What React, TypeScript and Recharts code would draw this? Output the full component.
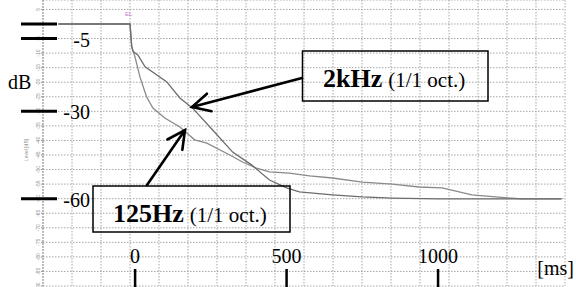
import { CartesianGrid, Line, LineChart, XAxis, YAxis } from "recharts";

// decay curves: time [ms] vs level [dB]
const time2k = [-247, 0, 6, 11, 27, 52, 126, 172, 216, 285, 354, 419, 481, 540, 584, 698, 801, 904, 1065, 1488];
const level2k = [0, 0, -7.8, -9.5, -10.6, -14.7, -19.8, -25.4, -28.9, -36.4, -44.0, -48.4, -53.6, -56.3, -57.7, -58.7, -59.4, -59.8, -60.1, -60.1];

const time125 = [-247, 0, 6, 11, 17, 34, 57, 79, 120, 172, 223, 265, 344, 388, 436, 481, 550, 619, 698, 801, 904, 997, 1076, 1179, 1261, 1351, 1488];
const level125 = [0, 0, -7.8, -9.5, -11.2, -18.1, -25.0, -28.9, -32.3, -35.4, -39.8, -40.9, -45.0, -47.4, -49.5, -50.8, -51.2, -52.2, -52.9, -54.3, -55.0, -56.0, -56.3, -58.7, -59.4, -60.1, -60.1];

const gridTimes = [-300, -200, -100, 0, 100, 200, 300, 400, 500, 600, 700, 800, 900, 1000, 1100, 1200, 1300, 1400, 1500];
const dbTicks = [5, 0, -5, -10, -15, -20, -25, -30, -35, -40, -45, -50, -55, -60, -65, -70, -75, -80, -85, -90];
const bigDbTicks = [0, -5, -30, -60];
const msTicks = [0, 500, 1000];

const data2k = time2k.map((t, i) => ({ t, v: level2k[i] }));
const data125 = time125.map((t, i) => ({ t, v: level125[i] }));

const SERIF_NAME = '"Liberation Serif", "Times New Roman", serif';
const SERIF = { fontFamily: SERIF_NAME };
const SMALL = { fontFamily: '"Liberation Sans", Arial, sans-serif' };

function DbTick(props: any) {
  const { y, payload } = props;
  const v = payload.value as number;
  const big = bigDbTicks.includes(v);
  return (
    <g>
      <text
        x={38}
        y={y}
        transform={`rotate(-90, 38, ${y})`}
        textAnchor="middle"
        dominantBaseline="central"
        fontSize={5}
        fill="#8c8c8c"
        style={SMALL}
      >
        {v}
      </text>
      {big && <line x1={21} x2={57} y1={y} y2={y} stroke="#000" strokeWidth={3} />}
      {big && v !== 0 && (
        <text x={90} y={y + 8} textAnchor="end" fontSize={20} fontFamily={SERIF_NAME} style={SERIF} fill="#000">
          {v}
        </text>
      )}
    </g>
  );
}

function MsTick(props: any) {
  const { x, payload } = props;
  return (
    <g>
      <text x={x} y={263} textAnchor="middle" fontSize={20} fontFamily={SERIF_NAME} style={SERIF} fill="#000">
        {payload.value}
      </text>
      <line x1={x} x2={x} y1={269} y2={287} stroke="#000" strokeWidth={2.5} />
    </g>
  );
}

function NoTick() {
  return <g />;
}

function arrow(x1: number, y1: number, x2: number, y2: number) {
  const a = Math.atan2(y1 - y2, x1 - x2);
  const len = 20;
  const sp = (27 * Math.PI) / 180;
  const h1 = [x2 + len * Math.cos(a + sp), y2 + len * Math.sin(a + sp)];
  const h2 = [x2 + len * Math.cos(a - sp), y2 + len * Math.sin(a - sp)];
  return (
    <g stroke="#000" strokeWidth={2.6} fill="none" strokeLinecap="round">
      <line x1={x1} y1={y1} x2={x2} y2={y2} />
      <polyline points={`${h1[0]},${h1[1]} ${x2},${y2} ${h2[0]},${h2[1]}`} />
    </g>
  );
}

export default function App() {
  return (
    <div
      style={{
        position: "fixed",
        left: 0,
        top: 0,
        width: 576,
        height: 287,
        background: "#fff",
        fontFamily: SERIF_NAME,
      }}
    >
      <LineChart width={576} height={287} margin={{ top: 0, right: 11, bottom: 0, left: 0 }}>
        <CartesianGrid xAxisId="t" yAxisId="db" stroke="#a6a6a6" strokeDasharray="1.5 1.5" />
        <XAxis
          xAxisId="t"
          dataKey="t"
          type="number"
          domain={[-300, 1500]}
          ticks={gridTimes}
          interval={0}
          allowDataOverflow
          height={0}
          tick={<NoTick />}
          tickLine={false}
          axisLine={false}
        />
        <XAxis
          xAxisId="ms"
          dataKey="t"
          type="number"
          domain={[-304, 1419]}
          ticks={msTicks}
          interval={0}
          allowDataOverflow
          height={1}
          tickLine={false}
          axisLine={false}
          tick={<MsTick />}
          label={{
            content: () => (
              <text x={574} y={275} textAnchor="end" fontSize={20} fontFamily={SERIF_NAME} style={SERIF} fill="#000">
                [ms]
              </text>
            ),
          }}
        />
        <YAxis
          yAxisId="db"
          type="number"
          domain={[-90, 8.24]}
          ticks={dbTicks}
          interval={0}
          allowDataOverflow
          width={43}
          tick={<DbTick />}
          tickSize={2}
          tickLine={{ stroke: "#999" }}
          axisLine={{ stroke: "#999", strokeDasharray: "2 1" }}
          label={{
            content: () => (
              <g>
                <text x={8} y={89} fontSize={20} fontFamily={SERIF_NAME} style={SERIF} fill="#000">
                  dB
                </text>
                <text
                  x={28}
                  y={150}
                  transform="rotate(-90, 28, 150)"
                  textAnchor="middle"
                  fontSize={5}
                  fill="#8c8c8c"
                  style={SMALL}
                >
                  Level [dB]
                </text>
              </g>
            ),
          }}
        />
        <Line
          xAxisId="t"
          yAxisId="db"
          data={data125}
          dataKey="v"
          type="linear"
          stroke="#8a8a8a"
          strokeWidth={1.3}
          dot={false}
          isAnimationActive={false}
        />
        <Line
          xAxisId="t"
          yAxisId="db"
          data={data2k}
          dataKey="v"
          type="linear"
          stroke="#6c6c6c"
          strokeWidth={1.3}
          dot={false}
          isAnimationActive={false}
        />
      </LineChart>

      {/* hand-drawn annotations on top of the plot */}
      <svg width={576} height={287} style={{ position: "absolute", left: 0, top: 0, pointerEvents: "none" }}>
        <text x={125} y={16} fontSize={6} fill="#c07ac8" style={SMALL}>
          EL
        </text>
        <rect x={302.5} y={51} width={185.5} height={50} fill="none" stroke="#000" strokeWidth={1.5} />
        <text x={323} y={87} style={SERIF} fill="#000">
          <tspan fontSize={26} fontWeight="bold">2kHz</tspan>
          <tspan fontSize={21} dx={6}>(1/1 oct.)</tspan>
        </text>
        <rect x={93} y={186} width={197} height={46} fill="none" stroke="#000" strokeWidth={1.5} />
        <text x={113} y={222} style={SERIF} fill="#000">
          <tspan fontSize={26} fontWeight="bold">125Hz</tspan>
          <tspan fontSize={21} dx={6}>(1/1 oct.)</tspan>
        </text>
        {arrow(302, 78, 192, 107)}
        {arrow(147, 185, 185, 130)}
      </svg>
    </div>
  );
}
